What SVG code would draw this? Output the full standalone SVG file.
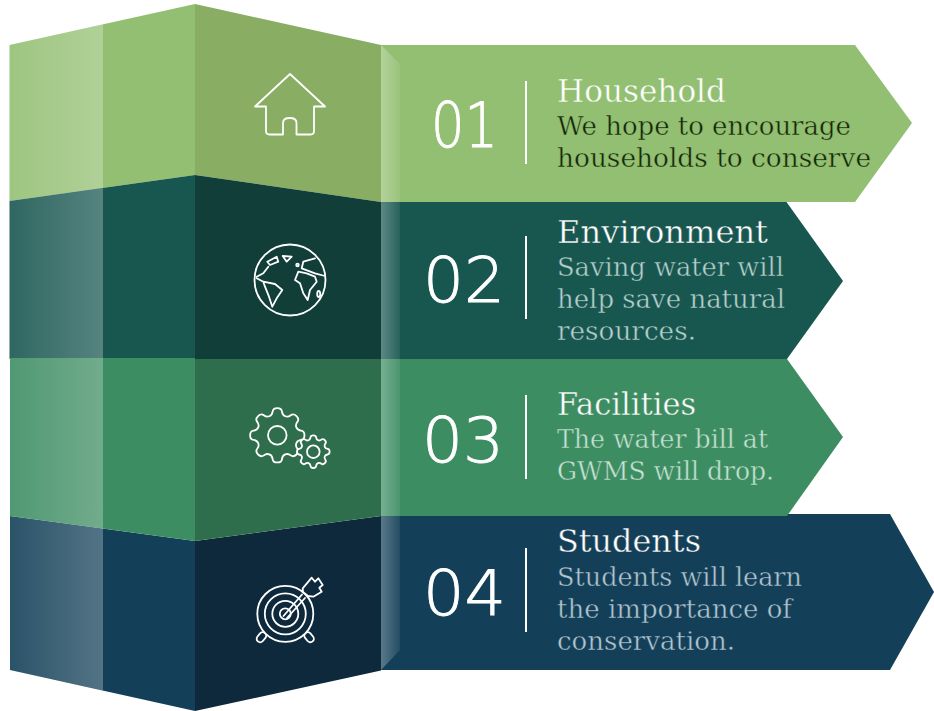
<svg xmlns="http://www.w3.org/2000/svg" width="934" height="711" viewBox="0 0 934 711">
<style>
.ttl{font-family:"DejaVu Serif","Liberation Serif",serif;font-size:32px;fill:#fff;stroke-width:.45px}
.txt{font-family:"DejaVu Serif","Liberation Serif",serif;font-size:26px;stroke-width:.45px}
.num{font-family:"DejaVu Sans","Liberation Sans",sans-serif;font-weight:200;font-size:63px;fill:#fff;stroke:#fff;stroke-width:.9px}
.ic{fill:none;stroke:#fff;stroke-width:1.8;stroke-linejoin:round;stroke-linecap:round}
.dv{stroke:#fff;stroke-width:2}
.g1{stroke:#93BF72}.g2{stroke:#185650}.g3{stroke:#3D8D63}.g4{stroke:#134058}
</style>
<defs>
<linearGradient id="hl" x1="0" y1="0" x2="1" y2="0"><stop offset="0" stop-color="#fff" stop-opacity=".1"/><stop offset="1" stop-color="#fff" stop-opacity=".27"/></linearGradient>
<linearGradient id="fold" x1="0" y1="0" x2="1" y2="0"><stop offset="0" stop-color="#fff" stop-opacity=".3"/><stop offset="1" stop-color="#fff" stop-opacity=".07"/></linearGradient>
<path id="gear" vector-effect="non-scaling-stroke" d="M-28.750,-69.400 Q-18.400,-73.700 -17,-86.300 Q-15.600,-98.800 0,-98.800 Q15.600,-98.800 17,-86.300 Q18.400,-73.700 28.750,-69.400 Q39.100,-65.100 48.950,-73 Q58.800,-80.900 69.850,-69.850 Q80.900,-58.800 73,-48.950 Q65.100,-39.100 69.400,-28.750 Q73.700,-18.400 86.300,-17 Q98.800,-15.600 98.800,0 Q98.800,15.600 86.300,17 Q73.700,18.400 69.400,28.750 Q65.100,39.100 73,48.950 Q80.900,58.800 69.850,69.850 Q58.800,80.900 48.950,73 Q39.100,65.100 28.750,69.400 Q18.400,73.700 17,86.300 Q15.600,98.800 0,98.800 Q-15.600,98.800 -17,86.300 Q-18.400,73.700 -28.750,69.400 Q-39.100,65.100 -48.950,73 Q-58.800,80.900 -69.850,69.850 Q-80.900,58.800 -73,48.950 Q-65.100,39.100 -69.400,28.750 Q-73.700,18.400 -86.300,17 Q-98.800,15.600 -98.800,0 Q-98.800,-15.600 -86.300,-17 Q-73.700,-18.400 -69.400,-28.750 Q-65.100,-39.100 -73,-48.950 Q-80.900,-58.800 -69.850,-69.850 Q-58.800,-80.900 -48.950,-73 Q-39.100,-65.100 -28.750,-69.400 Z"/>
</defs>

<g id="node-1">
<polygon fill="#93BF72" points="381,45 855,45 912,123 855,202 381,202"/>
<polygon fill="#93BF72" points="9.500,45 195,4 195,175 9.500,201"/>
<polygon fill="#89AE63" points="195,4 381,45 381,202 195,175"/>
<polygon fill="url(#hl)" points="9.500,45 103,24.300 103,188 9.500,201"/>
<polygon fill="url(#fold)" points="381,45 400,64 400,202 381,202"/>
<path class="ic" d="M290,74 L255,106.500 H266 V131 Q266,134.500 269.500,134.500 H283 V123 Q283,118 289.800,118 Q296.500,118 296.500,123 V134.500 H310.500 Q314,134.500 314,131 V106.500 H325 Z"/>
<text class="num" x="431" y="147" textLength="67" lengthAdjust="spacingAndGlyphs">01</text>
<line class="dv" x1="526" y1="81" x2="526" y2="164"/>
<text class="ttl g1" x="557" y="102" textLength="169" lengthAdjust="spacingAndGlyphs">Household</text>
<text class="txt g1" fill="#142808" x="557" y="135" textLength="294" lengthAdjust="spacingAndGlyphs">We hope to encourage</text>
<text class="txt g1" fill="#142808" x="557" y="167" textLength="314" lengthAdjust="spacingAndGlyphs">households to conserve</text>
</g>

<g id="node-2">
<polygon fill="#185650" points="381,202 786.500,202 843,281 787,359 381,359"/>
<polygon fill="#185650" points="9.500,201 195,175 195,359 9.500,359"/>
<polygon fill="#113E39" points="195,175 381,202 381,359 195,359"/>
<polygon fill="url(#hl)" points="9.500,201 103,188 103,359 9.500,359"/>
<polygon fill="url(#fold)" points="381,202 400,202 400,359 381,359"/>
<g class="ic">
<circle cx="290" cy="280" r="35.500"/>
<path d="M267.300,261.700 L276.700,256.700 L278.300,261.700 L270,265 Z"/>
<path d="M282.700,256 L291.700,256.700 L286.700,261.700 Z"/>
<path d="M268.300,266.700 L263.300,273.300 L256.700,276.700"/>
<path d="M256.700,278.300 L263.300,281.700 L275,284 L282.300,290 L276.700,298.300 L272.300,306.700 L269,296.700 L265,286.700 L263.300,281.700"/>
<path d="M295,280 L298.300,271.700 L306.700,273.300 L315,276.700 L316.700,281.700 L310,290 L307.700,300 L303.300,293.300 L300,283.300 Z"/>
<path d="M315,258.300 L303.300,261.700 L301.700,268.300 L315,273.300 L325,276"/>
<circle cx="297.500" cy="265" r="1.300"/>
<ellipse cx="318.700" cy="294" rx="1.500" ry="3"/>
</g>
<text class="num" x="423" y="302" textLength="82" lengthAdjust="spacingAndGlyphs">02</text>
<line class="dv" x1="526" y1="236" x2="526" y2="319"/>
<text class="ttl g2" x="557" y="243" textLength="211" lengthAdjust="spacingAndGlyphs">Environment</text>
<text class="txt g2" fill="#B4D0CC" x="557" y="276" textLength="227" lengthAdjust="spacingAndGlyphs">Saving water will</text>
<text class="txt g2" fill="#B4D0CC" x="557" y="308" textLength="228" lengthAdjust="spacingAndGlyphs">help save natural</text>
<text class="txt g2" fill="#B4D0CC" x="557" y="340" textLength="139" lengthAdjust="spacingAndGlyphs">resources.</text>
</g>

<g id="node-4">
<polygon fill="#134058" points="381,514 890,514 934,592 890,670 381,670"/>
<polygon fill="#134058" points="10,516 195,541 195,711 10,670"/>
<polygon fill="#0D293B" points="195,541 381,516 381,670.500 195,711"/>
<polygon fill="url(#hl)" points="10,516 103,528.500 103,690.500 10,670"/>
<polygon fill="url(#fold)" points="381,516 400,516 400,650 381,670"/>
<g class="ic">
<rect x="-3.500" y="0" width="7" height="11" rx="3.500" transform="translate(265,633) rotate(40)"/>
<rect x="-3.500" y="0" width="7" height="11" rx="3.500" transform="translate(305.500,633) rotate(-40)"/>
<circle cx="285.300" cy="613.800" r="28" fill="#0D293B"/>
<circle cx="285.300" cy="613.800" r="20.500"/>
<circle cx="285.300" cy="613.800" r="13"/>
<circle cx="285.300" cy="613.800" r="5.500"/>
<path d="M283.500,616 L302,594.500 M287,618 L305,598" fill="none"/>
<path fill="#0D293B" d="M302.700,588.300 L311.700,577.700 L315,581.700 L318.300,578.300 L322.700,585 L319.300,587.700 L321.700,591.700 L313.300,596.700 L308,596 L303,592 Z"/>
</g>
<text class="num" x="423" y="615" textLength="83" lengthAdjust="spacingAndGlyphs">04</text>
<line class="dv" x1="526" y1="548" x2="526" y2="632"/>
<text class="ttl g4" x="557" y="552" textLength="144" lengthAdjust="spacingAndGlyphs">Students</text>
<text class="txt g4" fill="#B2C6D2" x="557" y="586" textLength="245" lengthAdjust="spacingAndGlyphs">Students will learn</text>
<text class="txt g4" fill="#B2C6D2" x="557" y="618" textLength="235" lengthAdjust="spacingAndGlyphs">the importance of</text>
<text class="txt g4" fill="#B2C6D2" x="557" y="650" textLength="178" lengthAdjust="spacingAndGlyphs">conservation.</text>
</g>

<g id="node-3">
<polygon fill="#3D8D63" points="381,359 787,359 843,437 787,516 381,516"/>
<polygon fill="#3D8D63" points="10,358 195,358 195,541 10,516"/>
<polygon fill="#2F6E4C" points="195,359 381,359 381,516 195,541"/>
<polygon fill="url(#hl)" points="10,358 103,358 103,528.500 10,516"/>
<polygon fill="url(#fold)" points="381,359 400,359 400,516 381,516"/>
<g class="ic">
<use href="#gear" transform="translate(277.300,435.300) scale(.275)"/>
<circle cx="277.300" cy="435.300" r="9.300"/>
<use href="#gear" transform="translate(313.300,451.700) scale(.165)" fill="#2F6E4C"/>
<circle cx="313.300" cy="451.700" r="6.300"/>
</g>
<text class="num" x="422" y="462" textLength="82" lengthAdjust="spacingAndGlyphs">03</text>
<line class="dv" x1="526" y1="395" x2="526" y2="479"/>
<text class="ttl g3" x="557" y="415" textLength="139" lengthAdjust="spacingAndGlyphs">Facilities</text>
<text class="txt g3" fill="#C6E2D3" x="557" y="448" textLength="211" lengthAdjust="spacingAndGlyphs">The water bill at</text>
<text class="txt g3" fill="#C6E2D3" x="557" y="480" textLength="217" lengthAdjust="spacingAndGlyphs">GWMS will drop.</text>
</g>
</svg>
